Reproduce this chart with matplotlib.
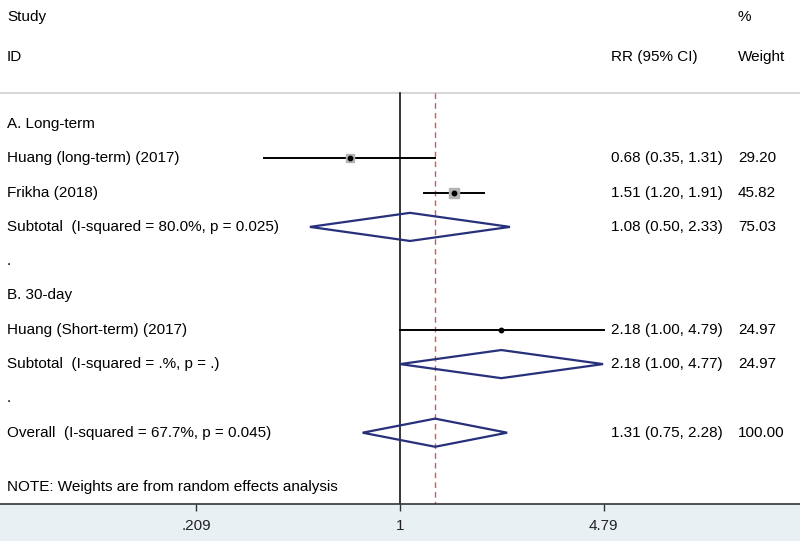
import numpy as np
import matplotlib
matplotlib.use("Agg")
import matplotlib.pyplot as plt
from matplotlib.patches import Polygon, Rectangle

plt.rcParams['font.family'] = ['Liberation Sans', 'DejaVu Sans']

# ---- data ----
row_labels = ["A. Long-term",
              "Huang (long-term) (2017)",
              "Frikha (2018)",
              "Subtotal  (I-squared = 80.0%, p = 0.025)",
              ".",
              "B. 30-day",
              "Huang (Short-term) (2017)",
              "Subtotal  (I-squared = .%, p = .)",
              ".",
              "Overall  (I-squared = 67.7%, p = 0.045)"]
row_kind = ["header", "study", "study", "diamond", "blank",
            "header", "study", "diamond", "blank", "diamond"]
rr     = [None, 0.68, 1.51, 1.08, None, None, 2.18, 2.18, None, 1.31]
lo     = [None, 0.35, 1.20, 0.50, None, None, 1.00, 1.00, None, 0.75]
hi     = [None, 1.31, 1.91, 2.33, None, None, 4.79, 4.77, None, 2.28]
rr_txt = ["", "0.68 (0.35, 1.31)", "1.51 (1.20, 1.91)", "1.08 (0.50, 2.33)", "",
          "", "2.18 (1.00, 4.79)", "2.18 (1.00, 4.77)", "", "1.31 (0.75, 2.28)"]
weight = [None, 29.20, 45.82, 75.03, None, None, 24.97, 24.97, None, 100.00]
wt_txt = ["", "29.20", "45.82", "75.03", "", "", "24.97", "24.97", "", "100.00"]
show_box = [False, True, True, False, False, False, False, False, False, False]
overall_rr = 1.31
xtick_vals = [0.209, 1, 4.79]
xtick_labels = [".209", "1", "4.79"]

# ---- layout ----
W, H = 800, 541
fig = plt.figure(figsize=(W / 100, H / 100), dpi=100)
fig.patch.set_facecolor("white")
axis_y_px = 504
# light band below axis
band = Rectangle((0, 0), 1, 1 - axis_y_px / H, transform=fig.transFigure,
                 facecolor="#e8f0f4", edgecolor="none", zorder=-10)
fig.add_artist(band)
ax = fig.add_axes([0, 1 - axis_y_px / H, 1, axis_y_px / H])
ax.set_zorder(5)
ax.set_facecolor("none")

row_step = 34.3
first_row_px = 124
def px2row(p):
    return (p - first_row_px) / row_step

ax.set_xscale("log")
half = 400 / 130.0
ax.set_xlim(np.exp(-half), np.exp(half))
ax.set_ylim(px2row(axis_y_px), px2row(0))

for s in ["top", "right", "left"]:
    ax.spines[s].set_visible(False)
ax.spines["bottom"].set_color("#333333")
ax.spines["bottom"].set_linewidth(1.2)
ax.set_yticks([])
ax.set_xticks(xtick_vals)
ax.set_xticklabels(xtick_labels, fontsize=11, color="#222222")
ax.xaxis.set_minor_locator(matplotlib.ticker.NullLocator())
ax.tick_params(axis="x", length=5, width=1, color="#333333", pad=6)

# grey line below headers
sep_row = px2row(93)
ax.axhline(sep_row, color="#d0d0d0", lw=1.2, zorder=1)

# reference lines
ax.plot([1, 1], [sep_row, px2row(axis_y_px)], color="black", lw=1.1, zorder=2)
ax.plot([overall_rr, overall_rr], [sep_row, px2row(axis_y_px)], color="#cc5a55",
        lw=1.0, ls=(0, (4, 3)), zorder=2)

fs = 11
tx = ax.get_yaxis_transform()  # x in axes fraction, y in data
colx_label = 7 / W
colx_rr = 611 / W
colx_wt = 738 / W

# headers
ax.text(colx_label, px2row(17), "Study", transform=tx, fontsize=fs, va="center")
ax.text(colx_label, px2row(57), "ID", transform=tx, fontsize=fs, va="center")
ax.text(colx_rr, px2row(57), "RR (95% CI)", transform=tx, fontsize=fs, va="center")
ax.text(colx_wt, px2row(17), "%", transform=tx, fontsize=fs, va="center")
ax.text(colx_wt, px2row(57), "Weight", transform=tx, fontsize=fs, va="center")

navy = "#27307a"
for i, (lab, kind) in enumerate(zip(row_labels, row_kind)):
    y = i
    ax.text(colx_label, y, lab, transform=tx, fontsize=fs, va="center")
    if rr_txt[i]:
        ax.text(colx_rr, y, rr_txt[i], transform=tx, fontsize=fs, va="center")
        ax.text(colx_wt, y, wt_txt[i], transform=tx, fontsize=fs, va="center")
    if kind == "study":
        ax.plot([lo[i], hi[i]], [y, y], color="black", lw=1.4, zorder=3)
        if show_box[i]:
            ms = 10 * np.sqrt(weight[i] / 45.82) * 0.72
            ax.plot([rr[i]], [y], marker="s", ms=ms, color="#b4b4b4",
                    mec="#b4b4b4", zorder=4)
        ax.plot([rr[i]], [y], marker="o", ms=3.2, color="black", zorder=5)
    elif kind == "diamond":
        h = 0.41
        poly = Polygon([[lo[i], y], [rr[i], y - h], [hi[i], y], [rr[i], y + h]],
                       closed=True, fill=False, edgecolor=navy, lw=1.6, zorder=4)
        ax.add_patch(poly)

ax.text(colx_label, px2row(487), "NOTE: Weights are from random effects analysis",
        transform=tx, fontsize=fs, va="center")

fig.savefig("out.png", dpi=100)
